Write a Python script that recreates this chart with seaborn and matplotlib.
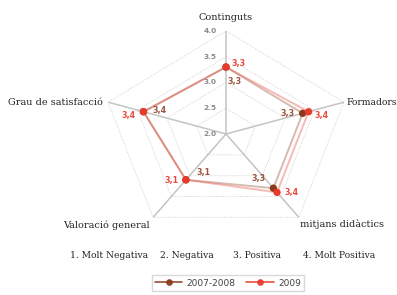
import numpy as np
import pandas as pd
import matplotlib
matplotlib.use("Agg")
import matplotlib.pyplot as plt
from matplotlib.lines import Line2D
import seaborn as sns

categories = ["Continguts", "Formadors", "mitjans didàctics", "Valoració general", "Grau de satisfacció"]
vals_2007 = [3.3, 3.3, 3.3, 3.1, 3.4]
vals_2009 = [3.3, 3.4, 3.4, 3.1, 3.4]
labels_2007 = ["3,3", "3,3", "3,3", "3,1", "3,4"]
labels_2009 = ["3,3", "3,4", "3,4", "3,1", "3,4"]
series_names = ["2007-2008", "2009"]
tick_vals = [2.0, 2.5, 3.0, 3.5, 4.0]
tick_labels = ["2.0", "2.5", "3.0", "3.5", "4.0"]
scale_text = ["1. Molt Negativa", "2. Negativa", "3. Positiva", "4. Molt Positiva"]

C07 = "#8a3a1c"
C09 = "#e8392b"
GRID = "#cfcfcf"

sns.set_style("white")
plt.rcParams["font.family"] = ["DejaVu Sans"]
SERIF = ["DejaVu Serif"]

n = len(categories)
theta = np.arange(n) * 2 * np.pi / n

rows = []
for name, vals in zip(series_names, [vals_2007, vals_2009]):
    for i, v in enumerate(vals + [vals[0]]):
        rows.append({"theta": theta[i % n] + (2 * np.pi if i == n else 0), "value": v, "year": name})
df = pd.DataFrame(rows)

fig = plt.figure(figsize=(3.97, 2.95), dpi=100)
ax = fig.add_axes([102 / 397, 58 / 295, 248 / 397, 206 / 295], projection="polar")
ax.set_theta_offset(np.pi / 2)
ax.set_theta_direction(-1)
ax.set_ylim(2, 4)
ax.grid(False)
ax.spines["polar"].set_visible(False)
ax.set_xticks([])
ax.set_yticks([])
ax.patch.set_alpha(0)

# pentagon grid
tclosed = np.append(theta, theta[0])
for r in tick_vals[1:]:
    ax.plot(tclosed, [r] * (n + 1), color=GRID, lw=0.7, ls=(0, (1, 1.5)), zorder=1)
for t in theta:
    ax.plot([t, t], [2, 4], color="#c4c4c4", lw=1.1, zorder=1)

# series lines
sns.lineplot(data=df, x="theta", y="value", hue="year", sort=False, ax=ax,
             palette={"2007-2008": C07, "2009": C09}, legend=False, lw=1.4, alpha=0.35,
             estimator=None, zorder=2)
pts = df[df["theta"] < 2 * np.pi - 1e-9]
sns.scatterplot(data=pts[pts["year"] == "2007-2008"], x="theta", y="value", color=C07, s=28,
                edgecolor="none", ax=ax, legend=False, zorder=3)
sns.scatterplot(data=pts[pts["year"] == "2009"], x="theta", y="value", color=C09, s=28,
                edgecolor="none", ax=ax, legend=False, zorder=4)

# value labels (offsets in pixels)
off07 = [(2, -14, "left"), (-8, 0, "right"), (-8, 10, "right"), (11, 7, "left"), (9, 1, "left")]
off09 = [(5, 4, "left"), (6, -4, "left"), (7, 0, "left"), (-7, -1, "right"), (-8, -4, "right")]
for i in range(n):
    dx, dy, ha = off07[i]
    ax.annotate(labels_2007[i], (theta[i], vals_2007[i]), xytext=(dx, dy), textcoords="offset pixels",
                ha=ha, va="center", fontsize=5.8, color=C07, fontweight="bold", alpha=0.85)
    dx, dy, ha = off09[i]
    ax.annotate(labels_2009[i], (theta[i], vals_2009[i]), xytext=(dx, dy), textcoords="offset pixels",
                ha=ha, va="center", fontsize=5.8, color=C09, fontweight="bold", alpha=0.9)

# radial tick labels
for tv, tl in zip(tick_vals, tick_labels):
    ax.annotate(tl, (0, tv), xytext=(-16, 0), textcoords="offset pixels", ha="center", va="center",
                fontsize=5.3, color="#8a8a8a", fontweight="bold")

# category labels
cat_off = [(0, 14, "center"), (3, 0, "left"), (1, -7, "left"), (-3, -8, "right"), (-5, 0, "right")]
cat_size = [7, 6.6, 7, 7, 7]
for i, c in enumerate(categories):
    dx, dy, ha = cat_off[i]
    ax.annotate(c, (theta[i], 4.0), xytext=(dx, dy), textcoords="offset pixels", ha=ha, va="center",
                fontsize=cat_size[i], color="#222222", family=SERIF, annotation_clip=False)

ax.set_xlabel("")
ax.set_ylabel("")
ax.set_aspect("auto")

# scale legend text
xs = [70, 160, 233, 303]
for x, t in zip(xs, scale_text):
    fig.text(x / 397, 1 - 255 / 295, t, ha="left", va="center", fontsize=6.6, color="#222222", family=SERIF)

handles = [Line2D([], [], color=C07, marker="o", ms=3.8, lw=1.2, alpha=0.9),
           Line2D([], [], color=C09, marker="o", ms=3.8, lw=1.2, alpha=0.9)]
leg = fig.legend(handles, series_names, loc="center", bbox_to_anchor=(228 / 397, 1 - 283 / 295), ncol=2,
                 fontsize=6.5, frameon=True, fancybox=False, edgecolor="#d0d0d0", handlelength=3.0,
                 columnspacing=1.2, borderpad=0.35, handletextpad=0.5)
for t in leg.get_texts():
    t.set_color("#444444")

fig.savefig("out.png", dpi=100)
